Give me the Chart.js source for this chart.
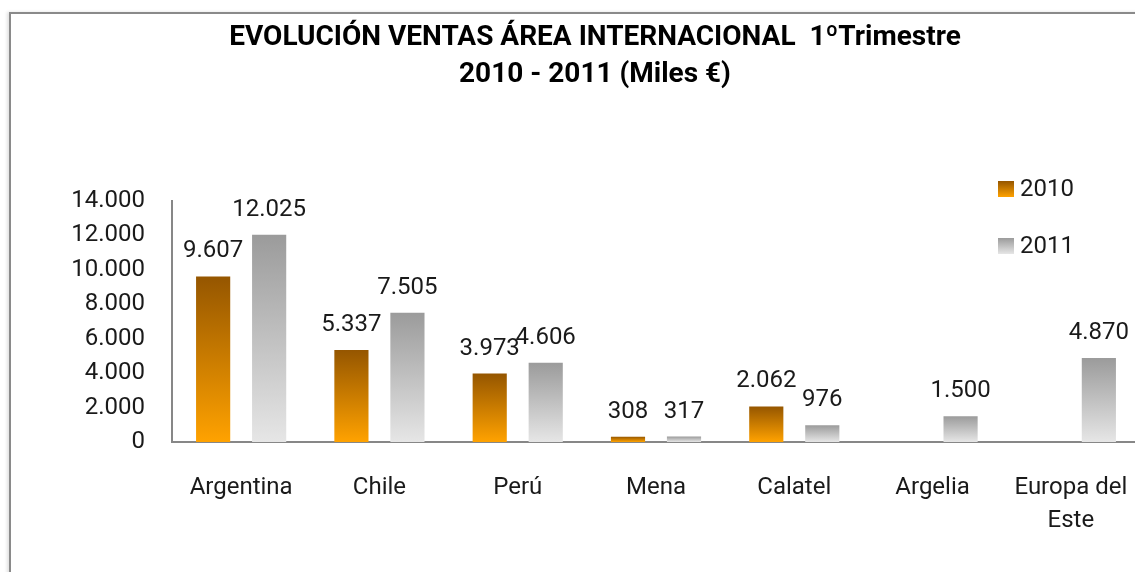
<!DOCTYPE html>
<html>
<head>
<meta charset="utf-8">
<script src="https://cdn.jsdelivr.net/npm/chart.js@4.4.1/dist/chart.umd.min.js"></script>
<style>
  html, body { margin: 0; padding: 0; background: #fff; overflow: hidden; width: 1135px; height: 572px; }
  #frame { position: absolute; left: 9px; top: 12px; width: 1200px; height: 700px;
           border-left: 2px solid #8a8a8a; border-top: 2px solid #8a8a8a;
           box-shadow: -2px 0 3px rgba(0,0,0,0.12); }
  #wrap { position: absolute; left: 0; top: 0; width: 1140px; height: 572px; }
</style>
</head>
<body>
<div id="frame"></div>
<div id="wrap"><canvas id="c" width="1140" height="572"></canvas></div>
<script>
const titleLines = ['EVOLUCIÓN VENTAS ÁREA INTERNACIONAL  1ºTrimestre', '2010 - 2011 (Miles €)'];
const categories = ['Argentina', 'Chile', 'Perú', 'Mena', 'Calatel', 'Argelia', ['Europa del', 'Este']];
const seriesNames = ['2010', '2011'];
const values2010 = [9607, 5337, 3973, 308, 2062, null, null];
const values2011 = [12025, 7505, 4606, 317, 976, 1500, 4870];
const yTicks = [0, 2000, 4000, 6000, 8000, 10000, 12000, 14000];

const FONT = 'Roboto, "DejaVu Sans", sans-serif';
const TEXT = '#1a1a1a';
const gradStops = [
  ['#955600', '#ffa200'],
  ['#9b9b9b', '#e6e6e6']
];

function fmt(v) {
  return String(Math.round(v)).replace(/\B(?=(\d{3})+(?!\d))/g, '.');
}

function barGradient(ctx, dsIndex) {
  const chart = ctx.chart;
  const y = chart.scales.y;
  if (!y || !chart.chartArea) return gradStops[dsIndex][1];
  const v = ctx.raw;
  if (v == null) return gradStops[dsIndex][1];
  const top = y.getPixelForValue(v);
  const bottom = y.getPixelForValue(0);
  const g = chart.ctx.createLinearGradient(0, top, 0, bottom);
  g.addColorStop(0, gradStops[dsIndex][0]);
  g.addColorStop(1, gradStops[dsIndex][1]);
  return g;
}

const valueLabels = {
  id: 'valueLabels',
  afterDatasetsDraw(chart) {
    const c = chart.ctx;
    c.save();
    c.font = '24px ' + FONT;
    c.fillStyle = TEXT;
    c.textAlign = 'center';
    c.textBaseline = 'bottom';
    chart.data.datasets.forEach((ds, i) => {
      const meta = chart.getDatasetMeta(i);
      meta.data.forEach((bar, j) => {
        const v = ds.data[j];
        if (v == null) return;
        c.fillText(fmt(v), bar.x, bar.y - 13);
      });
    });
    c.restore();
  }
};

const sideLegend = {
  id: 'sideLegend',
  afterDraw(chart) {
    const c = chart.ctx;
    c.save();
    c.font = '24px ' + FONT;
    c.fillStyle = TEXT;
    c.textAlign = 'left';
    c.textBaseline = 'middle';
    const x0 = 998, ys = [189, 246];
    chart.data.datasets.forEach((ds, i) => {
      const yc = ys[i];
      const g = c.createLinearGradient(0, yc - 8, 0, yc + 8);
      g.addColorStop(0, gradStops[i][0]);
      g.addColorStop(1, gradStops[i][1]);
      c.fillStyle = g;
      c.fillRect(x0, yc - 8, 16, 16);
      c.fillStyle = TEXT;
      c.fillText(ds.label, x0 + 22, yc + 1);
    });
    c.restore();
  }
};

new Chart(document.getElementById('c'), {
  type: 'bar',
  data: {
    labels: categories,
    datasets: [
      { label: seriesNames[0], data: values2010, backgroundColor: ctx => barGradient(ctx, 0) },
      { label: seriesNames[1], data: values2011, backgroundColor: ctx => barGradient(ctx, 1) }
    ]
  },
  plugins: [valueLabels, sideLegend],
  options: {
    responsive: false,
    animation: false,
    layout: { padding: { left: 50, right: 0, top: 0, bottom: 0 } },
    categoryPercentage: 0.81,
    barPercentage: 0.61,
    plugins: {
      legend: { display: false },
      tooltip: { enabled: false },
      title: {
        display: true,
        text: titleLines,
        color: '#000',
        font: { family: FONT, size: 28, weight: 'bold', lineHeight: 1.3 },
        padding: { top: 20, bottom: 108 }
      }
    },
    scales: {
      x: {
        grid: { display: false, drawTicks: true, tickLength: 30 },
        border: { display: true, color: '#878787', width: 2 },
        ticks: { color: TEXT, font: { family: FONT, size: 24, lineHeight: 1.35 }, padding: 0, maxRotation: 0, autoSkip: false },
        afterFit(s) { s.height = 130; }
      },
      y: {
        min: 0, max: 14000,
        afterBuildTicks(s) { s.ticks = yTicks.map(v => ({ value: v })); },
        grid: { display: false, drawTicks: false },
        border: { display: true, color: '#878787', width: 2 },
        ticks: { color: TEXT, font: { family: FONT, size: 24 }, padding: 27, callback: v => fmt(v) },
        afterFit(s) { s.width = 122; }
      }
    }
  }
});
</script>
</body>
</html>
